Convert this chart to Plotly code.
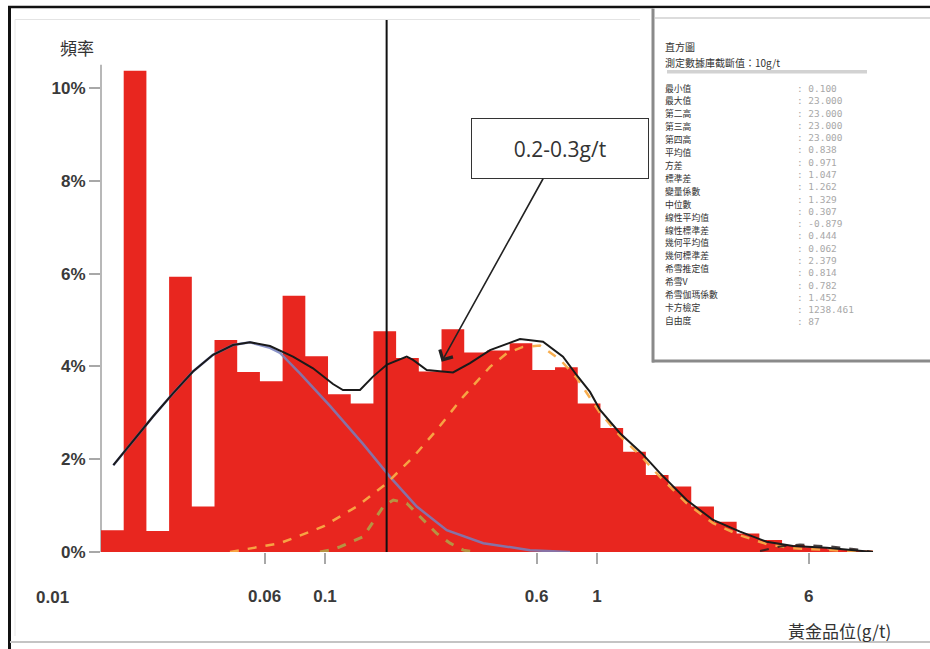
import math
import plotly.graph_objects as go

# ---------------- data ----------------
# Histogram of gold grade: log-spaced bins, frequency in percent
LOG_BIN_START = -1.8235   # log10(g/t) of the first bin's lower edge
LOG_BIN_WIDTH = 0.08346   # bin width in decades
freq_pct = [0.47, 10.37, 0.45, 5.93, 0.98, 4.57, 3.88, 3.68, 5.52, 4.22,
            3.40, 3.20, 4.76, 4.18, 3.89, 4.80, 4.30, 4.34, 4.50, 3.92,
            3.98, 3.20, 2.67, 2.16, 1.66, 1.41, 0.98, 0.65, 0.40, 0.26,
            0.15, 0.10, 0.06, 0.03]

# Fitted total distribution (g/t, %)
total_x = [0.01667, 0.01973, 0.02332, 0.02762, 0.03271, 0.03875, 0.04590, 0.05299,
           0.06278, 0.07626, 0.09035, 0.1070, 0.1164, 0.1345, 0.1501, 0.1690,
           0.1997, 0.2107, 0.2366, 0.2956, 0.3413, 0.4043, 0.5211, 0.6331,
           0.7499, 0.8424, 0.9425, 1.026, 1.215, 1.460, 1.704, 2.137, 2.671,
           3.356, 4.206, 5.256, 6.990, 10.34]
total_y = [1.87, 2.41, 2.92, 3.42, 3.89, 4.25, 4.46, 4.52,
           4.44, 4.21, 3.96, 3.62, 3.49, 3.49, 3.78, 4.04,
           4.21, 4.14, 3.92, 3.87, 4.07, 4.35, 4.59, 4.53,
           4.21, 3.81, 3.45, 3.06, 2.56, 2.13, 1.70, 1.12, 0.69,
           0.44, 0.22, 0.13, 0.09, 0.0]

# Low-grade population
low_x = [0.01667, 0.01973, 0.02332, 0.02762, 0.03271, 0.03875, 0.04590, 0.05299,
         0.06278, 0.06834, 0.0809, 0.1043, 0.1379, 0.1734, 0.2174, 0.2802,
         0.3819, 0.5672, 0.7957]
low_y = [1.87, 2.41, 2.92, 3.42, 3.89, 4.25, 4.46, 4.52,
         4.40, 4.29, 3.85, 3.15, 2.33, 1.62, 0.98, 0.47,
         0.19, 0.04, 0.0]

# Main mineralised population
main_x = [0.04474, 0.06834, 0.09857, 0.1307, 0.1685, 0.2112, 0.2574, 0.3225,
          0.4043, 0.4656, 0.5344, 0.6171, 0.7311, 0.8424, 1.026, 1.215,
          1.460, 1.704, 2.137, 2.671, 3.356, 4.206, 5.256, 6.990, 10.34]
main_y = [0.0, 0.19, 0.55, 0.98, 1.48, 2.05, 2.63, 3.35,
          3.99, 4.28, 4.42, 4.45, 4.15, 3.75, 3.00, 2.50,
          2.05, 1.62, 1.05, 0.62, 0.36, 0.17, 0.08, 0.04, 0.0]

# Intermediate population around 0.2 g/t
mid_x = [0.09586, 0.1043, 0.1135, 0.1383, 0.1638, 0.1783, 0.1997, 0.2298,
         0.2574, 0.2881, 0.3225, 0.3559]
mid_y = [0.0, 0.04, 0.11, 0.33, 0.98, 1.12, 1.05, 0.69,
         0.40, 0.19, 0.04, 0.0]

# High-grade tail population
tail_x = [3.975, 4.708, 5.576, 7.189, 9.266, 10.34]
tail_y = [0.02, 0.12, 0.16, 0.12, 0.05, 0.0]

split_grade = 0.1685          # vertical divider (g/t)
callout_grade = 0.2685        # arrow target (g/t)
callout_pct = 4.10
callout_text = "0.2-0.3g/t"

x_tick_vals = [0.06, 0.1, 0.6, 1, 6]
x_tick_text = ["0.06", "0.1", "0.6", "1", "6"]
x_extra_tick = 0.01
x_extra_text = "0.01"
y_tick_vals = [0, 2, 4, 6, 8, 10]
y_tick_text = ["0%", "2%", "4%", "6%", "8%", "10%"]

stat_title = "直方圖"
stat_subtitle = "測定數據庫截斷值：10g/t"
stat_labels = ["最小值", "最大值", "第二高", "第三高", "第四高", "平均值", "方差",
               "標準差", "變量係數", "中位數", "線性平均值", "線性標準差",
               "幾何平均值", "幾何標準差", "希雪推定值", "希雪V", "希雪伽瑪係數",
               "卡方檢定", "自由度"]
stat_values = ["0.100", "23.000", "23.000", "23.000", "23.000", "0.838", "0.971",
               "1.047", "1.262", "1.329", "0.307", "-0.879", "0.444", "0.062",
               "2.379", "0.814", "0.782", "1.452", "1238.461", "87"]

# ---------------- layout geometry ----------------
W, H = 930, 649
PL, PR, PT, PB = 101, 880, 19, 552          # plot area in pixels
X_RANGE = [-1.8235, 1.0404]                 # log10 range
Y_TOP = (PB - PT) / 46.4                    # percent at the plot top
AXIS_TOP = 10.5


def px(xp):
    return (xp - PL) / (PR - PL)


def py(yp):
    return (PB - yp) / (PB - PT)


RED = "#E8261F"
INK = "#333333"
TICK_FONT = dict(family="Liberation Sans, Arial", size=17, color="#3a3a3a", weight="bold")
CJK = "Noto Sans CJK TC"

# histogram as a stepped filled outline
edges = [10 ** (LOG_BIN_START + k * LOG_BIN_WIDTH) for k in range(len(freq_pct) + 1)]
hist_y = freq_pct + [freq_pct[-1]]

fig = go.Figure()
fig.add_trace(go.Scatter(x=edges, y=hist_y, mode="lines", line=dict(width=0, shape="hv"),
                         fill="tozeroy", fillcolor=RED, hoverinfo="skip"))
fig.add_trace(go.Scatter(x=low_x, y=low_y, mode="lines",
                         line=dict(color="rgba(118,128,190,0.85)", width=2.5)))
fig.add_trace(go.Scatter(x=mid_x, y=mid_y, mode="lines",
                         line=dict(color="rgba(176,160,70,0.9)", width=3, dash="dash")))
fig.add_trace(go.Scatter(x=main_x, y=main_y, mode="lines",
                         line=dict(color="rgba(248,170,70,0.95)", width=2.5, dash="dash")))
fig.add_trace(go.Scatter(x=tail_x, y=tail_y, mode="lines",
                         line=dict(color="rgba(40,30,30,0.85)", width=2, dash="dash")))
fig.add_trace(go.Scatter(x=total_x, y=total_y, mode="lines",
                         line=dict(color="#1a1a1a", width=2)))
fig.add_trace(go.Scatter(x=[split_grade, split_grade], y=[0, Y_TOP], mode="lines",
                         line=dict(color="#111111", width=2)))

shapes = []
# y axis line
shapes.append(dict(type="line", xref="paper", yref="y", x0=0, x1=0, y0=0, y1=AXIS_TOP,
                   line=dict(color="#a0a0a0", width=1.5), layer="below"))
# outer frame
shapes.append(dict(type="line", xref="paper", yref="paper", x0=px(8), x1=px(931),
                   y0=py(7), y1=py(7), line=dict(color="#111", width=2.5)))
shapes.append(dict(type="line", xref="paper", yref="paper", x0=px(9.5), x1=px(9.5),
                   y0=py(6), y1=py(650), line=dict(color="#111", width=3)))
shapes.append(dict(type="line", xref="paper", yref="paper", x0=px(10), x1=px(931),
                   y0=py(642), y1=py(642), line=dict(color="#c4c4c4", width=2)))
shapes.append(dict(type="line", xref="paper", yref="paper", x0=px(15), x1=px(640),
                   y0=py(19.5), y1=py(19.5), line=dict(color="#e4e4e4", width=1)))
shapes.append(dict(type="line", xref="paper", yref="paper", x0=px(15), x1=px(15),
                   y0=py(19.5), y1=py(636), line=dict(color="#e8e8e8", width=1)))
# statistics panel
shapes.append(dict(type="rect", xref="paper", yref="paper", x0=px(653), x1=px(932),
                   y0=py(361), y1=py(8.5), fillcolor="white", line=dict(width=0),
                   layer="above"))
shapes.append(dict(type="line", xref="paper", yref="paper", x0=px(653), x1=px(653),
                   y0=py(8.5), y1=py(362.5), line=dict(color="#8a8a8a", width=3),
                   layer="above"))
shapes.append(dict(type="line", xref="paper", yref="paper", x0=px(652), x1=px(931),
                   y0=py(361), y1=py(361), line=dict(color="#8a8a8a", width=3),
                   layer="above"))
shapes.append(dict(type="line", xref="paper", yref="paper", x0=px(655), x1=px(931),
                   y0=py(18), y1=py(18), line=dict(color="#d0d0d0", width=1.5),
                   layer="above"))
shapes.append(dict(type="rect", xref="paper", yref="paper", x0=px(667), x1=px(867),
                   y0=py(73.5), y1=py(70), fillcolor="#d2d2d2", line=dict(width=0),
                   layer="above"))

annotations = []
# extra x tick label left of the axis
annotations.append(dict(xref="paper", yref="paper",
                        x=(math.log10(x_extra_tick) - X_RANGE[0]) / (X_RANGE[1] - X_RANGE[0]),
                        y=py(597), text=x_extra_text, showarrow=False,
                        font=TICK_FONT, xanchor="center", yanchor="middle"))
# axis titles
annotations.append(dict(xref="paper", yref="paper", x=px(77), y=py(47), text="頻率",
                        showarrow=False, font=dict(family=CJK, size=17, color=INK),
                        xanchor="center", yanchor="middle"))
annotations.append(dict(xref="paper", yref="paper", x=px(839), y=py(630),
                        text="黃金品位(g/t)", showarrow=False,
                        font=dict(family=CJK, size=17, color=INK),
                        xanchor="center", yanchor="middle"))
# callout box with arrow
annotations.append(dict(xref="x", yref="y", x=math.log10(callout_grade), y=callout_pct,
                        text=callout_text, showarrow=True, axref="pixel", ayref="pixel",
                        ax=118, ay=-213, arrowhead=4, arrowsize=1.8, arrowwidth=1.6,
                        arrowcolor="#222", bordercolor="#333", borderwidth=1,
                        borderpad=0, width=176, height=59, bgcolor="white",
                        font=dict(family="Open Sans", size=21, color=INK)))
# statistics panel text
annotations.append(dict(xref="paper", yref="paper", x=px(663), y=py(46.5), text=stat_title,
                        showarrow=False, xanchor="left", yanchor="middle",
                        font=dict(family=CJK, size=10, color=INK)))
annotations.append(dict(xref="paper", yref="paper", x=px(663), y=py(62), text=stat_subtitle,
                        showarrow=False, xanchor="left", yanchor="middle",
                        font=dict(family=CJK, size=10, color=INK)))
n_lab = len(stat_labels)
for i, lab in enumerate(stat_labels):
    yp = 88.0 + i * (320.5 - 88.0) / (n_lab - 1)
    annotations.append(dict(xref="paper", yref="paper", x=px(663), y=py(yp), text=lab,
                            showarrow=False, xanchor="left", yanchor="middle",
                            font=dict(family=CJK, size=8.8, color=INK)))
annotations.append(dict(xref="paper", yref="paper", x=px(795), y=py(80.5),
                        text="<br>".join(": " + v for v in stat_values), showarrow=False,
                        xanchor="left", yanchor="top", align="left",
                        font=dict(family="DejaVu Sans Mono", size=9.45, color="#a8a8a8")))

fig.update_layout(
    width=W, height=H,
    margin=dict(l=PL, r=W - PR, t=PT, b=H - PB),
    paper_bgcolor="white", plot_bgcolor="white",
    showlegend=False,
    shapes=shapes, annotations=annotations,
    xaxis=dict(type="log", range=X_RANGE, tickvals=x_tick_vals, ticktext=x_tick_text,
               ticks="outside", ticklen=11, tickwidth=1.5, tickcolor="#a8a8a8",
               ticklabelstandoff=18, tickfont=TICK_FONT, showgrid=False,
               showline=False, zeroline=False, fixedrange=True),
    yaxis=dict(range=[0, Y_TOP], tickvals=y_tick_vals, ticktext=y_tick_text,
               ticks="outside", ticklen=11, tickwidth=1.5, tickcolor="#a8a8a8",
               tickfont=TICK_FONT, showgrid=False, showline=False, zeroline=False,
               fixedrange=True),
)

fig.write_html("out.html")
